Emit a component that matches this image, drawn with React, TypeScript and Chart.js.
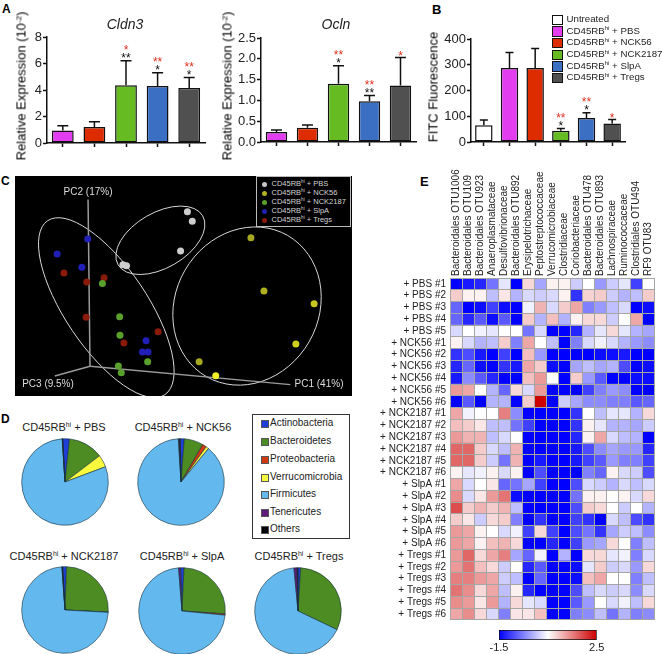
import React, { useEffect, useRef } from "react";
import { Chart, registerables } from "chart.js";

Chart.register(...registerables);

const FONT = "'Liberation Sans', Arial, sans-serif";

// ---------- Panels A / B ----------
const barGroupsA = ["CD45RBhi + PBS", "CD45RBhi + NCK56", "CD45RBhi + NCK2187", "CD45RBhi + SlpA", "CD45RBhi + Tregs"];
const cldn3Values = [0.95, 1.2, 4.35, 4.3, 4.15];
const cldn3Tops = [1.3, 1.6, 6.2, 5.3, 4.95];
const cldn3Black = ["", "", "**", "*", "*"];
const cldn3Red = ["", "", "*", "**", "**"];
const oclnValues = [0.24, 0.34, 1.4, 0.98, 1.36];
const oclnTops = [0.29, 0.41, 1.83, 1.12, 2.03];
const oclnBlack = ["", "", "*", "**", ""];
const oclnRed = ["", "", "**", "**", "*"];
const fitcGroups = ["Untreated", ...barGroupsA];
const fitcValues = [65, 287, 287, 44, 93, 72];
const fitcTops = [85, 348, 363, 52, 114, 87];
const fitcBlack = ["", "", "", "*", "*", ""];
const fitcRed = ["", "", "", "**", "**", "*"];
const colorsA = ["#e23ef0", "#dd2c00", "#66bb22", "#3b6fc4", "#505050"];
const colorsB = ["#ffffff", ...colorsA];

// ---------- Panel C ----------
const pbsX = [56.2, 57.7, 54.1, 36.4, 37.5];
const pbsY = [56.2, 53.2, 44.0, 39.7, 39.4];
const nck56X = [75.7, 79.7, 95.1, 89.5, 59.8, 64.9];
const nck56Y = [48.1, 31.5, 27.5, 15.0, 9.4, 5.1];
const nck56Colors = ["#a8a820", "#b0b020", "#c8c820", "#d0d020", "#a8a820", "#f0f028"];
const nck2187X = [30.1, 35.4, 35.5, 44.0, 35.0, 35.9];
const nck2187Y = [33.8, 23.5, 17.7, 9.4, 8.1, 6.0];
const slpaX = [25.6, 16.2, 23.8, 43.5, 42.4, 44.1];
const slpaY = [47.7, 43.0, 38.9, 16.0, 12.5, 12.5];
const tregsX = [18.3, 25.3, 30.6, 25.1, 47.2, 36.7];
const tregsY = [37.1, 34.3, 35.6, 23.3, 18.8, 15.3];
const pc2Axis = [{ x: 26.3, y: 8.0 }, { x: 25.7, y: 60.0 }];
const pc1Axis = [{ x: 26.3, y: 8.0 }, { x: 87.8, y: 2.3 }];
const pc3Axis = [{ x: 26.3, y: 8.0 }, { x: 15.5, y: 5.0 }];
// cx, cy, a, b, angle
const ellipses = [
  [47.9, 47.3, 15, 8.5, -30],
  [74.5, 26.8, 25, 22, -60],
  [31.3, 26.3, 32.2, 12.6, 56],
];
const pcLabels: [string, number, number][] = [
  ["PC2 (17%)", 25.7, 62.3],
  ["PC3 (9.5%)", 13.4, 2.5],
  ["PC1 (41%)", 96.6, 2.5],
];
const pcoaLegend = ["PBS", "NCK56", "NCK2187", "SlpA", "Tregs"];
const pcoaLegendColors = ["#c8c8c8", "#b0b020", "#5aa02c", "#2020b0", "#8a1a0a"];

// ---------- Panel D ----------
const phyla = ["Actinobacteria", "Bacteroidetes", "Proteobacteria", "Verrucomicrobia", "Firmicutes", "Tenericutes", "Others"];
const phylaColors = ["#1f3fd8", "#4c8c22", "#d03a10", "#f8f83c", "#63b8ee", "#5e1a78", "#000000"];
const piePBS = [2.5, 13, 0, 4.6, 79.7, 0.1, 0.1];
const pieNCK56 = [1.5, 7.2, 1.5, 1.1, 88.5, 0.4, 0.3];
const pieNCK2187 = [1.4, 25.2, 0.1, 0, 73, 0.1, 0.2];
const pieSlpA = [1.3, 25.3, 0.5, 0, 72.2, 0.7, 0];
const pieTregs = [1, 31.1, 0, 0, 66.4, 1.2, 0.3];

// ---------- Panel E ----------
const taxa = [
  "Bacteroidales OTU1006", "Bacteroidales OTU109", "Bacteroidales OTU923", "Anaeroplasmataceae",
  "Desulfovibrionaceae", "Bacteroidales OTU892", "Erysipelotrichaceae", "Peptostreptococcaceae",
  "Verrucomicrobiaceae", "Clostridiaceae", "Coriobacteriaceae", "Bacteroidales OTU478",
  "Bacteroidales OTU893", "Lachnospiraceae", "Ruminococcaceae", "Clostridiales OTU494", "RF9 OTU83",
];
const pbsRows = [
  [-1.5, -1.3, -1.2, -0.6, 0.3, -1.5, 0.8, -0.2, 0.6, 0.6, 0.1, 0.5, -0.3, 0.1, 0.3, -1.0, 0.5],
  [0.9, 0.6, 0.6, 0.0, 0.7, -0.1, 0.2, 0.1, 0.2, 0.6, -1.1, 0.85, 0.9, 0.1, -0.1, 0.0, 0.9],
  [-0.7, -1.5, -1.4, -1.0, -1.4, -1.5, 0.4, 1.1, 0.2, 0.9, 1.2, -0.5, -0.3, 0.0, 0.2, -1.5, -1.4],
  [-0.7, -1.2, -0.8, -1.4, -0.8, -1.5, 0.9, -0.1, 1.0, -0.1, 0.6, 0.8, 0.8, 0.1, 0.5, 1.2, -1.5],
  [0.2, 0.5, 0.4, 0.3, 0.5, 0.5, -0.6, 0.2, -1.5, -1.5, -1.2, -0.1, 0.3, 0.8, 0.3, -0.1, -0.2],
];
const nck56Rows = [
  [0.6, 0.2, -0.1, 0.0, 0.9, -0.5, 1.2, 0.5, 0.0, -1.5, -0.5, 0.2, 0.4, 0.2, -0.1, -0.3, -0.4],
  [-1.1, -0.9, -1.3, -1.5, -1.0, -1.5, 1.0, -0.3, -1.5, -1.5, -1.5, -1.5, -1.4, -1.4, -1.3, -1.5, -1.5],
  [-1.2, -0.7, -1.4, -1.5, -1.1, -1.3, 1.2, 0.9, -1.4, -1.5, -0.2, 0.0, -0.2, -0.1, -0.9, -1.5, -1.4],
  [-1.3, -0.4, -0.8, -1.2, -1.5, -1.5, 1.0, 1.3, 0.5, -1.5, 0.9, -0.3, -0.8, -1.5, -1.5, -1.4, -1.4],
  [1.3, 1.2, 0.5, -0.1, -0.7, 0.8, 0.2, 1.3, -1.5, -1.5, -1.5, -1.0, -0.5, -0.3, -0.4, -1.5, -1.5],
  [-1.5, -0.8, -1.5, -0.1, -0.1, -1.5, 0.9, 2.5, -1.5, 0.1, -0.2, -0.4, -0.4, -0.5, -0.5, -0.8, -0.7],
];
const nck2187Rows = [
  [1.2, 0.4, 0.5, 0.5, 1.5, -0.4, -1.5, -1.5, -1.5, -1.5, -1.1, 0.5, 0.0, 0.3, 0.3, -0.1, 0.8],
  [1.0, 0.9, 0.7, 0.0, 0.0, -0.6, -1.0, -1.5, -1.5, -1.5, -1.1, 0.6, 0.3, -0.1, -0.1, -0.2, 0.1],
  [1.3, 1.1, 1.1, 0.0, 0.2, 0.5, -1.5, -1.5, -1.5, -1.5, -1.2, 0.6, 1.2, 0.2, 0.0, -0.1, -1.5],
  [1.7, 1.7, 0.9, 0.2, 0.0, 1.1, -1.5, -1.5, -1.5, -1.5, -1.3, -0.9, -0.4, -0.2, -0.3, -0.3, -1.2],
  [1.7, 1.7, 0.9, 0.1, -0.6, 1.1, -1.5, -1.3, -1.5, -1.5, -1.3, -1.0, -0.8, -0.3, -0.5, -0.5, -1.0],
  [0.6, 0.3, 0.4, 0.6, 0.2, 0.6, -1.5, -0.9, -1.5, -1.5, -1.5, -0.5, -0.7, 0.6, 0.2, 0.1, -0.9],
];
const slpaRows = [
  [1.2, 0.2, 0.5, 0.7, -0.7, -0.6, -0.2, -1.0, -1.5, -1.5, -0.9, 0.2, 0.1, -0.1, 0.2, 0.0, 0.2],
  [1.4, 0.2, 0.7, 1.3, 1.6, -1.4, -1.5, -1.5, -1.5, -1.5, -0.6, 0.6, 0.6, 0.5, 0.6, 0.2, 0.8],
  [1.9, 0.9, 1.1, 0.9, 1.1, 0.0, -1.5, -1.5, -1.5, -1.5, -0.9, 0.9, 0.8, 0.5, 0.1, 0.5, -0.1],
  [0.9, 0.7, 0.1, 0.8, 0.9, -0.5, -1.5, -1.1, -1.5, -1.5, -1.0, -1.1, -1.5, 0.2, 0.0, -0.9, -1.1],
  [1.3, 1.2, 0.6, 0.5, 0.2, 0.4, -1.0, 0.8, -1.0, -1.5, -0.9, -0.6, -1.1, -0.2, 0.1, 0.0, -0.4],
  [1.3, 1.2, 0.6, 1.0, 1.1, 0.8, -1.5, -1.5, -1.2, -1.5, -1.0, -0.3, -0.2, 0.8, 0.5, -0.5, 0.0],
];
const tregsRows = [
  [1.3, 1.7, 0.8, 1.2, 1.5, -0.2, -0.7, 0.4, -1.5, -0.1, -1.5, 0.8, 0.8, 0.3, 0.4, -0.5, 0.2],
  [1.3, 1.6, 1.0, 0.8, 0.1, 0.5, -1.2, -0.8, -1.5, -1.5, -1.4, 0.3, 0.9, 0.1, 0.2, -0.3, 0.8],
  [1.5, 1.5, 1.3, 1.2, 0.1, 0.0, -1.5, -0.7, -1.5, -1.5, -1.4, 1.0, 1.2, 0.5, 0.5, -0.5, 0.0],
  [1.6, 1.4, 0.8, 1.2, 0.0, 0.6, -1.2, -1.5, -1.5, -1.5, -0.9, 0.0, 0.2, 0.1, 0.2, -0.4, 0.2],
  [1.4, 1.3, 0.7, 1.3, -0.1, 0.8, 0.3, 0.2, -1.5, -1.5, -0.8, -0.3, 0.5, 0.2, 0.4, 0.0, 0.8],
  [1.2, 1.4, 0.8, 0.2, -0.5, 0.7, 0.7, 1.0, -1.5, -1.5, -0.5, -0.4, 0.0, -0.6, -0.1, -0.5, -0.4],
];
const rowGroups: [string, number[][]][] = [
  ["+ PBS", pbsRows],
  ["+ NCK56", nck56Rows],
  ["+ NCK2187", nck2187Rows],
  ["+ SlpA", slpaRows],
  ["+ Tregs", tregsRows],
];
const colorMin = -1.5;
const colorMax = 2.5;

const heatRows = rowGroups.flatMap(([, rows]) => rows);
const heatLabels = rowGroups.flatMap(([name, rows]) => rows.map((_, i) => `${name} #${i + 1}`));

function heatColor(v: number) {
  const mid = (colorMin + colorMax) / 2;
  const half = (colorMax - colorMin) / 2;
  const t = Math.max(-1, Math.min(1, (v - mid) / half));
  const k = Math.abs(t);
  if (t < 0) {
    const c = Math.round(255 * (1 - k));
    return `rgb(${c},${c},255)`;
  }
  return `rgb(${Math.round(255 - 50 * k)},${Math.round(255 * (1 - k))},${Math.round(255 * (1 - k))})`;
}

// ---------- plugins ----------
const errorBarsPlugin = {
  id: "errorBars",
  afterDatasetsDraw(chart: any, _a: any, opts: any) {
    const { ctx, scales } = chart;
    const meta = chart.getDatasetMeta(0);
    ctx.save();
    opts.tops.forEach((top: number, i: number) => {
      const x = meta.data[i].x;
      const y0 = scales.y.getPixelForValue(chart.data.datasets[0].data[i]);
      const y1 = scales.y.getPixelForValue(top);
      ctx.strokeStyle = "#111";
      ctx.lineWidth = 1.5;
      ctx.beginPath();
      ctx.moveTo(x, y0);
      ctx.lineTo(x, y1);
      ctx.moveTo(x - opts.cap, y1);
      ctx.lineTo(x + opts.cap, y1);
      ctx.stroke();
      ctx.font = `12px ${FONT}`;
      ctx.textAlign = "center";
      ctx.textBaseline = "alphabetic";
      const hasBlack = !!opts.black[i];
      if (hasBlack) {
        ctx.fillStyle = "#111";
        ctx.fillText(opts.black[i], x, y1 - 5.5 + 7);
      }
      if (opts.red[i]) {
        ctx.fillStyle = "#e03020";
        ctx.fillText(opts.red[i], x, y1 - (hasBlack ? 13.5 : 5) + 7);
      }
    });
    ctx.restore();
  },
};

const pcoaPlugin = {
  id: "pcoa",
  beforeDatasetsDraw(chart: any) {
    const { ctx, scales } = chart;
    const ux = scales.x.getPixelForValue(1) - scales.x.getPixelForValue(0);
    ctx.save();
    ctx.strokeStyle = "#d8d8d8";
    ctx.lineWidth = 1;
    ellipses.forEach(([cx, cy, a, b, ang]) => {
      ctx.beginPath();
      ctx.ellipse(scales.x.getPixelForValue(cx), scales.y.getPixelForValue(cy), a * ux, b * ux, (ang * Math.PI) / 180, 0, Math.PI * 2);
      ctx.stroke();
    });
    ctx.restore();
  },
  afterDatasetsDraw(chart: any) {
    const { ctx, scales } = chart;
    ctx.save();
    ctx.font = `10px ${FONT}`;
    ctx.fillStyle = "#dddddd";
    ctx.textAlign = "center";
    ctx.textBaseline = "middle";
    pcLabels.forEach(([t, x, y]) => ctx.fillText(t, scales.x.getPixelForValue(x), scales.y.getPixelForValue(y)));
    ctx.restore();
  },
};

// ---------- helpers ----------
function ChartBox({ left, top, width, height, build, style }: any) {
  const ref = useRef<HTMLCanvasElement>(null);
  useEffect(() => {
    const chart = new Chart(ref.current as HTMLCanvasElement, build());
    return () => chart.destroy();
  }, []);
  return (
    <canvas
      ref={ref}
      width={width}
      height={height}
      style={{ position: "absolute", left, top, width, height, display: "block", ...style }}
    />
  );
}

function barConfig(o: any) {
  return {
    type: "bar",
    data: {
      labels: o.labels,
      datasets: [
        {
          data: o.values,
          backgroundColor: o.colors,
          borderColor: "#111",
          borderWidth: 1.5,
          borderSkipped: false,
          barPercentage: o.barPct,
          categoryPercentage: 1,
        },
      ],
    },
    plugins: [errorBarsPlugin],
    options: {
      animation: false,
      responsive: false,
      devicePixelRatio: 1,
      layout: { padding: { top: o.padTop, right: o.padRight, left: 0, bottom: 0 } },
      plugins: {
        legend: { display: false },
        tooltip: { enabled: false },
        errorBars: { tops: o.tops, black: o.black, red: o.red, cap: o.cap },
      },
      scales: {
        x: {
          type: "category",
          offset: true,
          grid: { display: true, offset: false, drawOnChartArea: false, drawTicks: true, tickLength: 4, tickColor: "#111", tickWidth: 1.5 },
          border: { color: "#111", width: 1.5 },
          ticks: { display: false, autoSkip: false },
          afterFit(s: any) { s.height = o.xHeight; },
        },
        y: {
          min: 0,
          max: o.max,
          grid: { display: true, drawOnChartArea: false, drawTicks: true, tickLength: 4, tickColor: "#111", tickWidth: 1.5 },
          border: { color: "#111", width: 1.5 },
          ticks: {
            stepSize: o.step,
            color: "#222",
            padding: 1,
            font: { family: FONT, size: 13 },
            callback: o.tickFmt,
          },
          afterFit(s: any) { s.width = o.yWidth; },
        },
      },
    },
  };
}

const cldn3Config = () =>
  barConfig({
    labels: barGroupsA, values: cldn3Values, colors: colorsA, tops: cldn3Tops, black: cldn3Black, red: cldn3Red,
    barPct: 0.69, cap: 5.5, max: 8, step: 2, padTop: 37, padRight: 5, xHeight: 17, yWidth: 47,
    tickFmt: (v: number) => String(v),
  });
const oclnConfig = () =>
  barConfig({
    labels: barGroupsA, values: oclnValues, colors: colorsA, tops: oclnTops, black: oclnBlack, red: oclnRed,
    barPct: 0.69, cap: 5.5, max: 2.5, step: 0.5, padTop: 38, padRight: 4, xHeight: 18, yWidth: 41,
    tickFmt: (v: number) => v.toFixed(1),
  });
const fitcConfig = () =>
  barConfig({
    labels: fitcGroups, values: fitcValues, colors: colorsB, tops: fitcTops, black: fitcBlack, red: fitcRed,
    barPct: 0.68, cap: 4, max: 400, step: 100, padTop: 39, padRight: 5, xHeight: 18, yWidth: 31,
    tickFmt: (v: number) => String(v),
  });

const pcoaConfig = () => {
  const pts = (xs: number[], ys: number[]) => xs.map((x, i) => ({ x, y: ys[i] }));
  const set = (name: string, xs: number[], ys: number[], color: any) => ({
    label: name, data: pts(xs, ys), backgroundColor: color, borderWidth: 0, pointRadius: 3.5, showLine: false,
  });
  const axis = (name: string, data: any[]) => ({
    label: name, data, showLine: true, borderColor: "#9a9a9a", borderWidth: 1.5, pointRadius: 0,
  });
  return {
    type: "scatter",
    data: {
      datasets: [
        set("PBS", pbsX, pbsY, "#cdcdcd"),
        set("NCK56", nck56X, nck56Y, nck56Colors),
        set("NCK2187", nck2187X, nck2187Y, "#5aa02c"),
        set("SlpA", slpaX, slpaY, "#2020b8"),
        set("Tregs", tregsX, tregsY, "#8a1a0a"),
        axis("PC2", pc2Axis),
        axis("PC1", pc1Axis),
        axis("PC3", pc3Axis),
      ],
    },
    plugins: [pcoaPlugin],
    options: {
      animation: false,
      responsive: false,
      devicePixelRatio: 1,
      layout: { padding: 0 },
      plugins: { legend: { display: false }, tooltip: { enabled: false } },
      scales: {
        x: { type: "linear", min: 4.5, max: 105.5, display: false },
        y: { type: "linear", min: 0, max: 66.1, display: false },
      },
    },
  };
};

const pieConfig = (values: number[], rotation: number) => () => ({
  type: "pie",
  data: {
    labels: phyla,
    datasets: [{ data: values, backgroundColor: phylaColors, borderColor: "#16303c", borderWidth: 0.6 }],
  },
  options: {
    animation: false,
    responsive: false,
    devicePixelRatio: 1,
    radius: 43.3,
    rotation,
    layout: { padding: 0 },
    plugins: { legend: { display: false }, tooltip: { enabled: false } },
  },
});

const heatConfig = () => ({
  type: "bar",
  data: {
    labels: heatLabels,
    datasets: taxa.map((name, c) => ({
      label: name,
      data: heatRows.map(() => 1),
      backgroundColor: heatRows.map((r) => heatColor(r[c])),
      borderWidth: 0,
      barPercentage: 1,
      categoryPercentage: 1,
      xAxisID: "x",
      yAxisID: "y",
    })),
  },
  options: {
    indexAxis: "y",
    animation: false,
    responsive: false,
    devicePixelRatio: 1,
    layout: { padding: { top: 0, right: 8, bottom: 7, left: 0 } },
    plugins: { legend: { display: false }, tooltip: { enabled: false } },
    scales: {
      x: {
        type: "linear",
        position: "bottom",
        stacked: true,
        min: 0,
        max: taxa.length,
        ticks: { display: false, stepSize: 1 },
        grid: { color: "#a6a6a6", lineWidth: 1, drawTicks: false, z: 1 },
        border: { display: false },
        afterFit(s: any) { s.height = 0; },
      },
      xTop: {
        type: "category",
        position: "top",
        labels: taxa,
        offset: true,
        grid: { display: false, drawTicks: false },
        border: { display: false },
        ticks: {
          autoSkip: false,
          minRotation: 90,
          maxRotation: 90,
          padding: 2,
          labelOffset: 12,
          color: "#222",
          font: { family: FONT, size: 10 },
        },
        afterFit(s: any) { s.height = 113; },
      },
      y: {
        type: "category",
        stacked: true,
        grid: { color: "#a6a6a6", lineWidth: 1, drawTicks: false, offset: true, z: 1 },
        border: { display: false },
        ticks: { autoSkip: false, padding: 4, color: "#222", font: { family: FONT, size: 10 } },
        afterFit(s: any) { s.width = 75; },
      },
    },
  },
});

const colorbarConfig = () => ({
  type: "bar",
  data: {
    labels: ["scale"],
    datasets: [
      {
        data: [[colorMin, colorMax]],
        barPercentage: 1,
        categoryPercentage: 1,
        borderColor: "#111",
        borderWidth: 1,
        borderSkipped: false,
        backgroundColor: (c: any) => {
          const a = c.chart.chartArea;
          if (!a) return "#fff";
          const g = c.chart.ctx.createLinearGradient(a.left, 0, a.right, 0);
          [0, 0.25, 0.5, 0.75, 1].forEach((p) => g.addColorStop(p, heatColor(colorMin + p * (colorMax - colorMin))));
          return g;
        },
      },
    ],
  },
  options: {
    indexAxis: "y",
    animation: false,
    responsive: false,
    devicePixelRatio: 1,
    layout: { padding: { top: 4, left: 19, right: 23.3, bottom: 0 } },
    plugins: { legend: { display: false }, tooltip: { enabled: false } },
    scales: {
      x: {
        type: "linear",
        min: colorMin,
        max: colorMax,
        afterBuildTicks(s: any) { s.ticks = [{ value: colorMin }, { value: colorMax }]; },
        grid: { display: false, drawTicks: false },
        border: { display: false },
        ticks: { maxRotation: 0, padding: 1, color: "#222", font: { family: FONT, size: 11 }, callback: (v: number) => String(v) },
        afterFit(s: any) { s.height = 14; },
      },
      y: { display: false },
    },
  },
});

// ---------- html text ----------
function Hi() {
  return (
    <span>
      CD45RB<span style={{ fontSize: "62%", position: "relative", top: "-0.55em" }}>hi</span>
    </span>
  );
}

function Txt({ x, y, align = "left", rot = 0, size, style, children }: any) {
  const tx = align === "center" ? "-50%" : align === "right" ? "-100%" : "0";
  return (
    <div
      style={{
        position: "absolute", left: x, top: y, fontSize: size, lineHeight: 1, whiteSpace: "nowrap", color: "#222",
        transform: `translate(${tx},-50%)${rot ? ` rotate(${rot}deg)` : ""}`, ...style,
      }}
    >
      {children}
    </div>
  );
}

const Expr = () => (
  <span>
    Relative Expression (10<span style={{ fontSize: "62%", position: "relative", top: "-0.55em" }}>-2</span>)
  </span>
);

const fitcLegendY = [19, 30.7, 42, 54, 65.7, 77.3];
const pcoaLegendY = [184, 193, 202, 211, 220];
const phylaLegendY = [423, 441, 459, 476.7, 494, 511.7, 529.3];
const pieCenters: [number, number, number[], number, string][] = [
  [65, 482, piePBS, -3, "PBS"],
  [181, 482, pieNCK56, -1, "NCK56"],
  [65, 610, pieNCK2187, -3, "NCK2187"],
  [182, 611, pieSlpA, -2, "SlpA"],
  [298, 611, pieTregs, 0, "Tregs"],
];
const pieTitlePos = [[64, 427], [183, 427], [64, 556], [182, 556], [299, 556]];

export default function App() {
  return (
    <div style={{ position: "fixed", left: 0, top: 0, width: 662, height: 654, background: "#fff", overflow: "hidden", fontFamily: FONT }}>
      {/* Panel letters */}
      <Txt x={2} y={9} size={12} style={{ fontWeight: "bold", color: "#000" }}>A</Txt>
      <Txt x={432} y={8.5} size={13} style={{ fontWeight: "bold", color: "#000" }}>B</Txt>
      <Txt x={1} y={181} size={12} style={{ fontWeight: "bold", color: "#000" }}>C</Txt>
      <Txt x={1} y={419} size={12} style={{ fontWeight: "bold", color: "#000" }}>D</Txt>
      <Txt x={420} y={181} size={13} style={{ fontWeight: "bold", color: "#000" }}>E</Txt>

      {/* Panel A */}
      <ChartBox left={0} top={0} width={210} height={160} build={cldn3Config} />
      <ChartBox left={220} top={0} width={200} height={160} build={oclnConfig} />
      <Txt x={125} y={24} align="center" size={14} style={{ fontStyle: "italic" }}>Cldn3</Txt>
      <Txt x={336} y={24} align="center" size={14} style={{ fontStyle: "italic" }}>Ocln</Txt>
      <Txt x={20.7} y={86} align="center" rot={-90} size={13} style={{ color: "#000" }}><Expr /></Txt>
      <Txt x={226.7} y={86} align="center" rot={-90} size={13} style={{ color: "#000" }}><Expr /></Txt>

      {/* Panel B */}
      <ChartBox left={440} top={0} width={190} height={160} build={fitcConfig} />
      <Txt x={433} y={86.5} align="center" rot={-90} size={13} style={{ color: "#000" }}>FITC Fluorescence</Txt>
      {fitcGroups.map((g, i) => (
        <React.Fragment key={g}>
          <div style={{ position: "absolute", left: 552, top: fitcLegendY[i] - 4.5, width: 8.5, height: 8.5, background: colorsB[i], border: "1px solid #111" }} />
          <Txt x={566.5} y={fitcLegendY[i]} size={9.7}>
            {i === 0 ? g : <><Hi /> + {barGroupsA[i - 1].split(" + ")[1]}</>}
          </Txt>
        </React.Fragment>
      ))}

      {/* Panel C */}
      <ChartBox left={15} top={176} width={337} height={220} build={pcoaConfig} style={{ background: "#000" }} />
      <div style={{ position: "absolute", left: 256, top: 176, width: 95, height: 51, border: "1px solid #bbb", boxSizing: "border-box", background: "#000" }} />
      {pcoaLegend.map((g, i) => (
        <React.Fragment key={g}>
          <div style={{ position: "absolute", left: 261.5, top: pcoaLegendY[i] - 2.5, width: 5, height: 5, borderRadius: "50%", background: pcoaLegendColors[i] }} />
          <Txt x={271.5} y={pcoaLegendY[i]} size={7.5} style={{ color: "#d4d4d4" }}>
            <Hi /> + {g}
          </Txt>
        </React.Fragment>
      ))}

      {/* Panel D */}
      {pieCenters.map(([cx, cy, values, rot, name], i) => (
        <React.Fragment key={name}>
          <ChartBox left={cx - 48} top={cy - 48} width={96} height={96} build={pieConfig(values, rot)} />
          <Txt x={pieTitlePos[i][0]} y={pieTitlePos[i][1]} align="center" size={11}>
            <Hi /> + {name}
          </Txt>
        </React.Fragment>
      ))}
      <div style={{ position: "absolute", left: 252, top: 414, width: 98, height: 125, border: "1px solid #333", boxSizing: "border-box" }} />
      {phyla.map((p, i) => (
        <React.Fragment key={p}>
          <div style={{ position: "absolute", left: 261, top: phylaLegendY[i] - 3, width: 6, height: 6, background: phylaColors[i], border: "0.5px solid #555" }} />
          <Txt x={270} y={phylaLegendY[i]} size={10}>{p}</Txt>
        </React.Fragment>
      ))}

      {/* Panel E */}
      <ChartBox left={375} top={165} width={287} height={465} build={heatConfig} />
      <ChartBox left={480} top={626} width={140} height={28} build={colorbarConfig} />
    </div>
  );
}
